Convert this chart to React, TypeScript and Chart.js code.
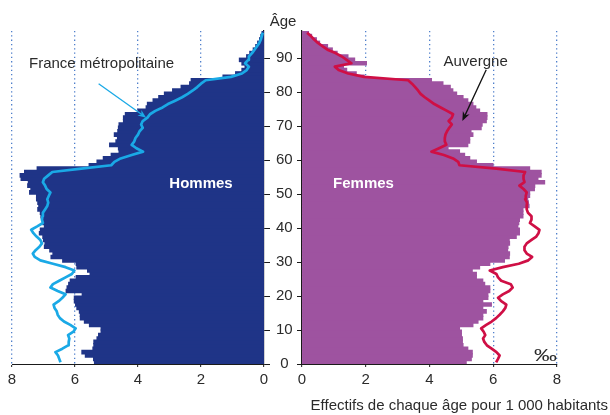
import React, { useEffect, useRef } from "react";
import { Chart, registerables } from "chart.js";

Chart.register(...registerables);

// Ages 0..97 (one bar per year of age)
const AGES: number[] = [];
for (let a = 0; a <= 97; a++) AGES.push(a);

const AGE_TICKS = [0, 10, 20, 30, 40, 50, 60, 70, 80, 90];
const VALUE_TICKS = [0, 2, 4, 6, 8];

// Hommes – Auvergne (bars), per 1 000 inhabitants
const menAuvergne = [
  5.38, 5.41, 5.67, 5.78, 5.43, 5.40, 5.40, 5.30, 5.25, 5.17,
  5.17, 5.54, 5.70, 5.83, 5.83, 5.86, 5.94, 5.98, 6.02, 6.02,
  5.77, 6.28, 6.25, 6.20, 6.15, 5.96, 5.52, 5.60, 5.94, 5.96,
  6.39, 6.76, 6.70, 6.80, 6.97, 6.95, 7.00, 7.02, 7.13, 7.10,
  6.97, 7.02, 7.02, 7.08, 7.10, 7.18, 7.15, 7.18, 7.22, 7.22,
  7.44, 7.40, 7.50, 7.48, 7.71, 7.74, 7.60, 7.20, 5.55, 5.30,
  5.10, 4.85, 4.60, 4.62, 4.90, 4.70, 4.65, 4.75, 4.64, 4.62,
  4.60, 4.46, 4.46, 4.40, 4.00, 3.74, 3.70, 3.52, 3.34, 3.16,
  2.90, 2.63, 2.36, 2.31, 1.30, 0.90, 0.70, 0.60, 0.70, 0.78,
  0.55, 0.45, 0.34, 0.26, 0.20, 0.14, 0.10, 0.06,
];

// Hommes – France métropolitaine (line)
const menFrance = [
  6.46, 6.50, 6.54, 6.62, 6.40, 6.22, 6.20, 6.18, 6.22, 6.05,
  5.98, 6.15, 6.35, 6.48, 6.55, 6.58, 6.65, 6.68, 6.52, 6.40,
  6.30, 6.55, 6.78, 6.70, 6.50, 6.30, 6.10, 6.02, 6.30, 6.70,
  7.10, 7.28, 7.34, 7.25, 7.13, 7.05, 7.10, 7.22, 7.32, 7.39,
  7.20, 7.02, 7.05, 7.03, 7.02, 6.95, 6.88, 6.85, 6.88, 6.83,
  6.78, 6.90, 6.95, 7.02, 6.98, 6.85, 6.72, 5.80, 4.85, 4.75,
  4.55, 4.20, 3.84, 4.05, 4.20, 4.12, 4.08, 4.00, 3.95, 3.85,
  3.90, 3.85, 3.70, 3.62, 3.45, 3.22, 3.05, 2.82, 2.60, 2.42,
  2.26, 2.12, 2.00, 1.85, 1.05, 0.70, 0.55, 0.48, 0.60, 0.50,
  0.48, 0.38, 0.30, 0.22, 0.15, 0.10, 0.07, 0.04,
];

// Femmes – Auvergne (bars)
const womenAuvergne = [
  5.15, 5.31, 5.34, 5.34, 5.20, 5.05, 5.03, 5.03, 5.00, 5.00,
  4.94, 5.36, 5.52, 5.67, 5.67, 5.78, 5.67, 5.94, 5.67, 5.83,
  5.83, 5.89, 5.89, 5.73, 5.67, 5.47, 5.47, 5.34, 5.57, 5.89,
  6.35, 6.50, 6.51, 6.45, 6.46, 6.51, 6.50, 6.72, 6.82, 6.82,
  6.77, 6.80, 6.82, 6.93, 6.93, 6.93, 7.12, 7.10, 7.08, 7.14,
  7.14, 7.29, 7.30, 7.61, 7.40, 7.50, 7.50, 7.14, 5.99, 5.47,
  5.26, 5.10, 4.94, 4.58, 5.20, 5.26, 5.26, 5.36, 5.30, 5.62,
  5.65, 5.78, 5.80, 5.80, 5.57, 5.45, 5.36, 5.20, 5.05, 4.85,
  4.73, 4.65, 4.42, 4.06, 1.95, 1.70, 1.40, 1.30, 2.02, 1.65,
  1.44, 1.10, 0.95, 0.80, 0.55, 0.45, 0.30, 0.20,
];

// Femmes – France métropolitaine (line)
const womenFrance = [
  6.09, 6.15, 6.20, 6.10, 5.95, 5.80, 5.72, 5.68, 5.75, 5.70,
  5.62, 5.78, 5.95, 6.09, 6.20, 6.30, 6.38, 6.41, 6.25, 6.15,
  6.30, 6.50, 6.61, 6.55, 6.25, 6.15, 6.10, 5.89, 6.30, 6.80,
  7.10, 7.22, 7.05, 6.98, 6.98, 7.05, 7.20, 7.35, 7.42, 7.45,
  7.30, 7.15, 7.20, 7.20, 7.09, 7.05, 7.05, 7.06, 7.00, 7.02,
  7.05, 6.95, 6.82, 6.98, 6.95, 6.95, 7.00, 6.10, 4.94, 4.90,
  4.74, 4.45, 4.06, 4.30, 4.53, 4.48, 4.48, 4.50, 4.55, 4.62,
  4.70, 4.60, 4.70, 4.74, 4.55, 4.35, 4.15, 4.00, 3.85, 3.72,
  3.64, 3.55, 3.45, 3.33, 1.95, 1.45, 1.15, 1.03, 1.55, 1.40,
  1.25, 1.05, 0.80, 0.65, 0.50, 0.38, 0.28, 0.16,
];

const FONT = "'Liberation Sans', Arial, Helvetica, sans-serif";
const TEXT = "#2b2b2b";
const AXIS = "#1a1a1a";
const GRID = "#4f7fcb";
const MEN_BAR = "#1f3487";
const MEN_LINE = "#1aa9e6";
const WOMEN_BAR = "#9e53a0";
const WOMEN_LINE = "#cf0f45";

const pts = (vals: number[]) => AGES.map((a, i) => ({ x: vals[i], y: a + 0.5 }));

function drawArrow(ctx: CanvasRenderingContext2D, x1: number, y1: number, x2: number, y2: number, color: string, w: number, head: number) {
  const ang = Math.atan2(y2 - y1, x2 - x1);
  ctx.save();
  ctx.strokeStyle = color;
  ctx.fillStyle = color;
  ctx.lineWidth = w;
  ctx.beginPath();
  ctx.moveTo(x1, y1);
  ctx.lineTo(x2 - head * 0.6 * Math.cos(ang), y2 - head * 0.6 * Math.sin(ang));
  ctx.stroke();
  ctx.beginPath();
  ctx.moveTo(x2, y2);
  ctx.lineTo(x2 - head * Math.cos(ang - 0.38), y2 - head * Math.sin(ang - 0.38));
  ctx.lineTo(x2 - head * 0.65 * Math.cos(ang), y2 - head * 0.65 * Math.sin(ang));
  ctx.lineTo(x2 - head * Math.cos(ang + 0.38), y2 - head * Math.sin(ang + 0.38));
  ctx.closePath();
  ctx.fill();
  ctx.restore();
}

const leftAnnot = {
  id: "leftAnnot",
  afterDatasetsDraw(chart: any) {
    const { ctx, scales, chartArea } = chart;
    const x = scales.x, y = scales.y;
    ctx.save();
    ctx.font = `bold 15px ${FONT}`;
    ctx.fillStyle = "#ffffff";
    ctx.textAlign = "center";
    ctx.textBaseline = "middle";
    ctx.fillText("Hommes", x.getPixelForValue(2), y.getPixelForValue(52.9));
    ctx.font = `15px ${FONT}`;
    ctx.fillStyle = TEXT;
    ctx.textAlign = "left";
    ctx.textBaseline = "alphabetic";
    ctx.fillText("France métropolitaine", x.getPixelForValue(7.46), y.getPixelForValue(87));
    ctx.textAlign = "center";
    ctx.fillText("Âge", chartArea.right + 19, chartArea.top - 5);
    ctx.restore();
    drawArrow(ctx, x.getPixelForValue(5.25), y.getPixelForValue(82.5), x.getPixelForValue(3.74), y.getPixelForValue(72.5), MEN_LINE, 1.3, 9);
  },
};

const rightAnnot = {
  id: "rightAnnot",
  afterDatasetsDraw(chart: any) {
    const { ctx, scales, chartArea, width } = chart;
    const x = scales.x, y = scales.y;
    ctx.save();
    ctx.font = `bold 15px ${FONT}`;
    ctx.fillStyle = "#ffffff";
    ctx.textAlign = "center";
    ctx.textBaseline = "middle";
    ctx.fillText("Femmes", x.getPixelForValue(1.93), y.getPixelForValue(52.9));
    ctx.font = `15px ${FONT}`;
    ctx.fillStyle = TEXT;
    ctx.textAlign = "left";
    ctx.textBaseline = "alphabetic";
    ctx.fillText("Auvergne", x.getPixelForValue(4.44), y.getPixelForValue(87.8));
    ctx.textAlign = "right";
    ctx.fillText("Effectifs de chaque âge pour 1 000 habitants", width - 2, 410);
    ctx.font = `17px ${FONT}`;
    ctx.translate(x.getPixelForValue(8), chartArea.bottom - 3);
    ctx.scale(1.35, 1);
    ctx.fillText("‰", 0, 0);
    ctx.restore();
    drawArrow(ctx, x.getPixelForValue(5.78), y.getPixelForValue(86.6), x.getPixelForValue(5.03), y.getPixelForValue(71.5), "#111111", 1.3, 10);
  },
};

function xScale(reverse: boolean) {
  return {
    type: "linear",
    reverse,
    min: 0,
    max: 8,
    afterBuildTicks: (s: any) => {
      s.ticks = VALUE_TICKS.map((v) => ({ value: v }));
    },
    afterFit: (s: any) => {
      s.height = 51;
    },
    grid: {
      display: true,
      drawOnChartArea: true,
      drawTicks: true,
      tickLength: 3,
      lineWidth: 1.3,
      color: (c: any) => (c.tick && c.tick.value === 0 ? "rgba(0,0,0,0)" : GRID),
      tickColor: AXIS,
      tickWidth: 1,
    },
    border: { display: true, color: AXIS, width: 1, dash: [1.3, 3] },
    ticks: {
      color: TEXT,
      font: { family: FONT, size: 15 },
      padding: 4,
      maxRotation: 0,
    },
  };
}

function yScale(position: "left" | "right", showLabels: boolean, width: number) {
  return {
    type: "linear",
    position,
    min: 0,
    max: 98,
    offset: false,
    afterBuildTicks: (s: any) => {
      s.ticks = AGE_TICKS.map((v) => ({ value: v }));
    },
    afterFit: (s: any) => {
      s.width = width;
    },
    grid: {
      display: true,
      offset: false,
      drawOnChartArea: false,
      drawTicks: true,
      tickLength: position === "right" ? 6 : 5,
      color: AXIS,
      lineWidth: 1,
    },
    border: { display: true, color: AXIS, width: 1.2 },
    ticks: {
      display: showLabels,
      color: TEXT,
      font: { family: FONT, size: 15 },
      crossAlign: "center",
      padding: 6,
    },
  };
}

function makeConfig(side: "left" | "right") {
  const isLeft = side === "left";
  return {
    type: "bar",
    data: {
      datasets: [
        {
          type: "line",
          label: "France métropolitaine",
          data: pts(isLeft ? menFrance : womenFrance),
          borderColor: isLeft ? MEN_LINE : WOMEN_LINE,
          borderWidth: 2.7,
          pointRadius: 0,
          fill: false,
          tension: 0,
          indexAxis: "y",
          order: 0,
          borderJoinStyle: "round",
        },
        {
          type: "bar",
          label: isLeft ? "Hommes – Auvergne" : "Femmes – Auvergne",
          data: pts(isLeft ? menAuvergne : womenAuvergne),
          backgroundColor: isLeft ? MEN_BAR : WOMEN_BAR,
          borderWidth: 0,
          inflateAmount: 0.6,
          barPercentage: 1,
          categoryPercentage: 1,
          order: 1,
        },
      ],
    },
    options: {
      indexAxis: "y",
      responsive: false,
      maintainAspectRatio: false,
      animation: false,
      devicePixelRatio: 1,
      events: [],
      layout: {
        padding: isLeft ? { left: 12, top: 31, right: 0, bottom: 0 } : { left: 0, top: 31, right: 53, bottom: 0 },
      },
      plugins: { legend: { display: false }, tooltip: { enabled: false }, title: { display: false } },
      scales: {
        x: xScale(isLeft),
        y: isLeft ? yScale("right", true, 41) : yScale("left", false, 12),
      },
    },
    plugins: [isLeft ? leftAnnot : rightAnnot],
  };
}

export default function App() {
  const leftRef = useRef<HTMLCanvasElement>(null);
  const rightRef = useRef<HTMLCanvasElement>(null);
  useEffect(() => {
    const l = new Chart(leftRef.current as HTMLCanvasElement, makeConfig("left") as any);
    const r = new Chart(rightRef.current as HTMLCanvasElement, makeConfig("right") as any);
    return () => {
      l.destroy();
      r.destroy();
    };
  }, []);
  return (
    <div style={{ position: "fixed", left: 0, top: 0, width: 610, height: 415, background: "#ffffff", overflow: "hidden" }}>
      <canvas ref={leftRef} width={305} height={415} style={{ position: "absolute", left: 0, top: 0, width: 305, height: 415 }} />
      <canvas ref={rightRef} width={320} height={415} style={{ position: "absolute", left: 290, top: 0, width: 320, height: 415 }} />
    </div>
  );
}
